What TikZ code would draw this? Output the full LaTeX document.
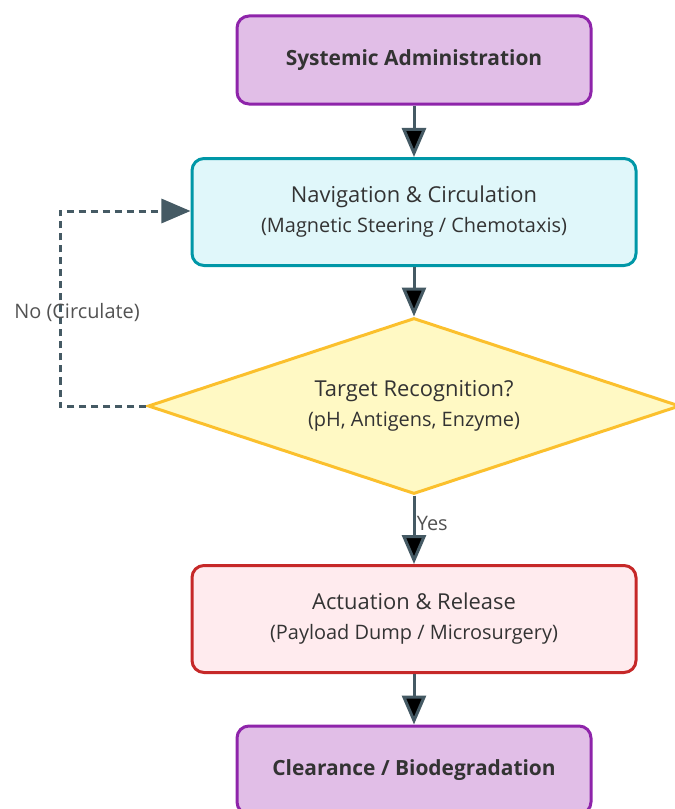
\documentclass[tikz,border=0pt]{standalone}
\usepackage{fontspec}
\setmainfont{Open Sans}
\usetikzlibrary{arrows.meta,shapes.geometric}
\definecolor{startfill}{HTML}{E1BEE7}
\definecolor{startline}{HTML}{8E24AA}
\definecolor{navfill}{HTML}{E0F7FA}
\definecolor{navline}{HTML}{0097A7}
\definecolor{askfill}{HTML}{FFF9C4}
\definecolor{askline}{HTML}{FBC02D}
\definecolor{actfill}{HTML}{FFEBEE}
\definecolor{actline}{HTML}{C62828}
\definecolor{flowline}{HTML}{455A64}
\definecolor{txt}{HTML}{333333}

\begin{document}
\begin{tikzpicture}[x=1bp,y=-1bp,>={Triangle[length=29bp,width=24bp]},line width=3bp,
  every node/.style={text=txt},
  end node/.style={rectangle,rounded corners=12bp,draw=startline,fill=startfill,minimum width=354bp,minimum height=88bp,font=\fontsize{21}{25}\selectfont\bfseries},
  step node/.style={rectangle,rounded corners=12bp,minimum width=444bp,minimum height=107bp,align=center,font=\fontsize{22}{30}\selectfont},
  ask node/.style={diamond,aspect=3.02,inner sep=0pt,draw=askline,fill=askfill,minimum width=532bp,minimum height=176bp,align=center,font=\fontsize{22}{30}\selectfont},
  sub/.style={font=\fontsize{20}{24}\selectfont,text=txt!85}]
  \useasboundingbox (0,0) rectangle (675,809);
  \clip (0,0) rectangle (675,809);

  \node[end node] (admin) at (414,60) {Systemic Administration};
  \node[step node,draw=navline,fill=navfill] (nav) at (414,212) {Navigation \& Circulation\\{\fontsize{20}{24}\selectfont(Magnetic Steering / Chemotaxis)}};
  \node[ask node] (target) at (414,406) {Target Recognition?\\{\fontsize{20}{24}\selectfont(pH, Antigens, Enzyme)}};
  \node[step node,draw=actline,fill=actfill] (act) at (414,619) {Actuation \& Release\\{\fontsize{20}{24}\selectfont(Payload Dump / Microsurgery)}};
  \node[end node] (clear) at (414,770) {Clearance / Biodegradation};

  \coordinate (loopbot) at (60,406);
  \coordinate (looptop) at (60,211);

\path[draw=flowline,->]
  (admin) edge (nav)
  (nav) edge (target)
  (target) edge node[sub,right,xshift=-2bp,yshift=6bp] {Yes} (act)
  (act) edge (clear)
;
\draw[flowline,dash pattern=on 7bp off 5bp,->] (target.west) -- (loopbot) -- node[sub,pos=0.5,xshift=17bp,yshift=-4bp] {No (Circulate)} (looptop) -- (nav.west |- looptop);
\end{tikzpicture}
\end{document}
